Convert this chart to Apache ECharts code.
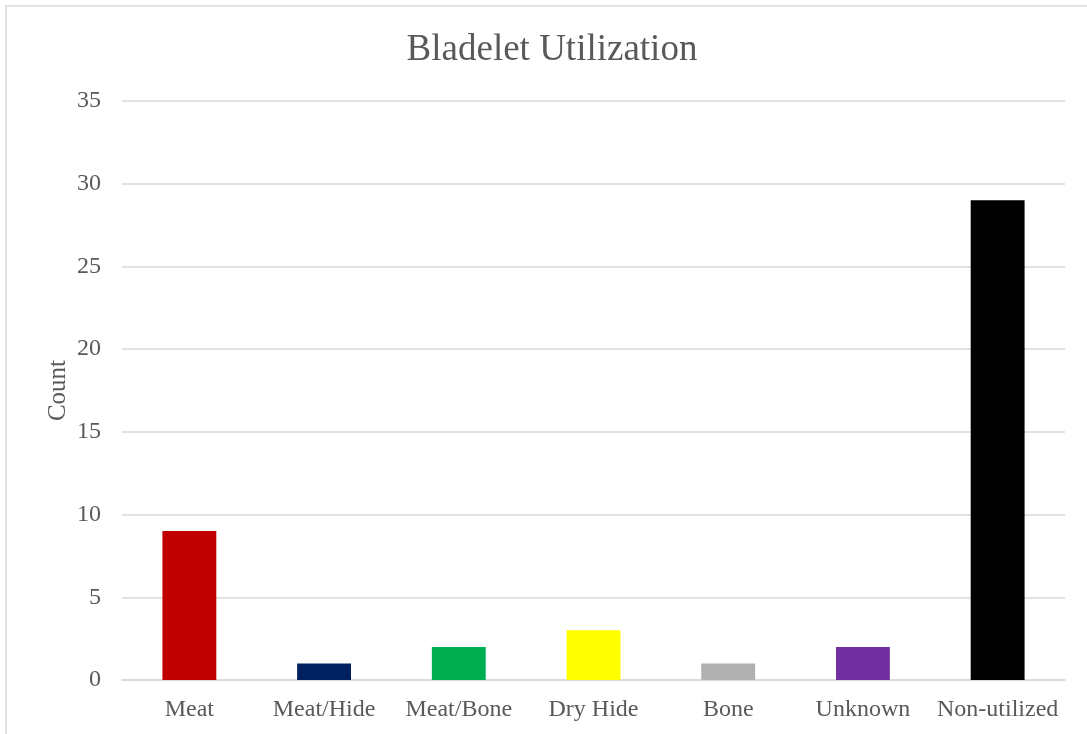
<!DOCTYPE html>
<html>
<head>
<meta charset="utf-8">
<script src="https://cdn.jsdelivr.net/npm/echarts@6/dist/echarts.min.js"></script>
<style>
  html, body { margin: 0; padding: 0; background: #fff; }
  #chart { width: 1087px; height: 734px; }
</style>
</head>
<body>
<div id="chart"></div>
<script>
const categories = ['Meat', 'Meat/Hide', 'Meat/Bone', 'Dry Hide', 'Bone', 'Unknown', 'Non-utilized'];
const counts = [9, 1, 2, 3, 1, 2, 29];
const barColors = ['#c00000', '#002060', '#00b050', '#ffff00', '#b0b0b0', '#7030a0', '#000000'];

const FONT = '"Liberation Serif", "Times New Roman", serif';
const chart = echarts.init(document.getElementById('chart'));

chart.setOption({
  backgroundColor: '#fff',
  animation: false,
  title: {
    text: 'Bladelet Utilization',
    left: 547,
    textAlign: 'center',
    top: 27,
    textStyle: { fontFamily: FONT, fontSize: 37, fontWeight: 'normal', color: '#595959' },
  },
  graphic: [{
    type: 'rect',
    shape: { x: 6, y: 6, width: 1200, height: 900 },
    style: { fill: 'none', stroke: '#d9d9d9', lineWidth: 1.5 },
    silent: true,
  }],
  grid: { left: 122, right: 22, top: 101, bottom: 54 },
  xAxis: {
    type: 'category',
    data: categories,
    axisLine: { lineStyle: { color: '#d9d9d9', width: 1.5 } },
    axisTick: { show: false },
    axisLabel: { interval: 0, fontFamily: FONT, fontSize: 24, color: '#595959', margin: 18 },
  },
  yAxis: {
    type: 'value',
    min: 0,
    max: 35,
    interval: 5,
    name: 'Count',
    nameLocation: 'middle',
    nameMoveOverlap: false,
    nameGap: 51,
    nameTextStyle: { fontFamily: FONT, fontSize: 25, color: '#595959' },
    axisLine: { show: false },
    axisTick: { show: false },
    splitLine: { lineStyle: { color: '#d9d9d9', width: 1.5 } },
    axisLabel: { fontFamily: FONT, fontSize: 24, color: '#595959', margin: 21 },
  },
  series: [{
    type: 'bar',
    barWidth: '40%',
    data: counts.map((v, i) => ({ value: v, itemStyle: { color: barColors[i] } })),
  }],
});
</script>
</body>
</html>
